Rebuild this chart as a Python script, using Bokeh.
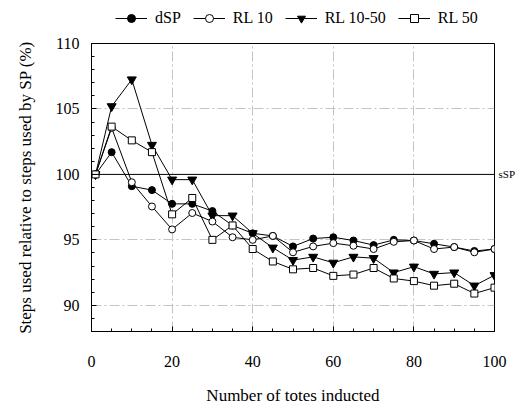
from bokeh.plotting import figure
from bokeh.layouts import column
from bokeh.models import (FixedTicker, Legend, LegendItem, Span, Range1d, LinearAxis)
from bokeh.embed import file_html
from bokeh.resources import INLINE

# ---- data ----
totes = [1, 5, 10, 15, 20, 25, 30, 35, 40, 45, 50, 55, 60, 65, 70, 75, 80, 85, 90, 95, 100]
dsp = [100, 101.7, 99.1, 98.8, 97.75, 97.75, 97.2, 96.1, 95.5, 95.3, 94.5, 95.1, 95.2,
       94.95, 94.6, 95.0, 94.95, 94.7, 94.45, 94.15, 94.3]
rl10 = [100, 103.55, 99.4, 97.55, 95.8, 97.05, 96.4, 95.2, 95.0, 95.3, 94.05, 94.5, 94.75,
        94.55, 94.3, 94.85, 94.95, 94.3, 94.45, 94.05, 94.3]
rl10_50 = [100, 105.2, 107.25, 102.25, 99.6, 99.6, 96.85, 96.85, 95.5, 94.4, 93.45, 93.7,
           93.25, 93.7, 93.6, 92.5, 92.95, 92.4, 92.5, 91.5, 92.3]
rl50 = [100, 103.65, 102.6, 101.7, 96.95, 98.2, 95.0, 96.1, 94.3, 93.35, 92.75, 92.85,
        92.25, 92.35, 92.85, 92.05, 91.85, 91.5, 91.65, 90.9, 91.35]
series_names = ["dSP", "RL 10", "RL 10-50", "RL 50"]
x_ticks = [0, 20, 40, 60, 80, 100]
y_ticks = [90, 95, 100, 105, 110]
sp_level = 100
sp_label = "sSP"

FONT = "Liberation Serif"
W = 518
TOP_H = 36
MAIN_H = 371

# ---------------- main chart ----------------
p = figure(width=W, height=MAIN_H, output_backend="svg", toolbar_location=None,
           x_range=Range1d(0, 100), y_range=Range1d(88, 110),
           min_border_left=91, min_border_right=21, min_border_top=43 - TOP_H,
           min_border_bottom=MAIN_H - (43 - TOP_H) - 290)

p.outline_line_color = "black"
p.outline_line_width = 1
p.outline_line_alpha = 1

p.xaxis.ticker = FixedTicker(ticks=x_ticks, minor_ticks=list(range(0, 101, 5)))
p.yaxis.ticker = FixedTicker(ticks=y_ticks, minor_ticks=list(range(88, 111, 1)))
p.axis.major_tick_in = 5
p.axis.major_tick_out = 0
p.axis.minor_tick_in = 3
p.axis.minor_tick_out = 0
p.axis.axis_line_color = "black"
p.axis.major_tick_line_color = "black"
p.axis.minor_tick_line_color = "black"
p.axis.major_label_text_font = FONT
p.axis.major_label_text_font_size = "16px"
p.axis.major_label_text_color = "black"
p.axis.axis_label_text_font = FONT
p.axis.axis_label_text_font_size = "17px"
p.axis.axis_label_text_font_style = "normal"
p.axis.axis_label_text_color = "black"

p.xaxis.axis_label = "Number of totes inducted"
p.yaxis.axis_label = "Steps used relative to steps used by SP (%)"
p.xaxis.major_label_standoff = 24
p.xaxis.axis_label_standoff = 16
p.yaxis.major_label_standoff = 12
p.yaxis.axis_label_standoff = 18

p.xgrid.ticker = FixedTicker(ticks=[20, 40, 60, 80])
p.ygrid.ticker = FixedTicker(ticks=[90, 95, 105])
for g in (p.xgrid[0], p.ygrid[0]):
    g.grid_line_color = "#c4c4c4"
    g.grid_line_dash = "10 3 2 3"
    g.grid_line_width = 1

p.add_layout(Span(location=sp_level, dimension="width", line_color="black", line_width=1))
sp_axis = LinearAxis(ticker=FixedTicker(ticks=[sp_level], minor_ticks=[]),
                     major_label_overrides={sp_level: sp_label},
                     axis_line_alpha=0, major_tick_line_alpha=0, minor_tick_line_alpha=0,
                     major_tick_in=0, major_tick_out=0, minor_tick_in=0, minor_tick_out=0,
                     major_label_standoff=4, major_label_text_font=FONT,
                     major_label_text_font_size="11px", major_label_text_color="black")
p.add_layout(sp_axis, "right")


def draw_series(fig):
    # draw order: RL 10-50, dSP, RL 10, RL 50
    l3 = fig.line(totes, rl10_50, line_color="black", line_width=1)
    m3 = fig.scatter(totes, rl10_50, marker="inverted_triangle", size=9,
                     fill_color="black", line_color="black")
    l1 = fig.line(totes, dsp, line_color="black", line_width=1)
    m1 = fig.scatter(totes, dsp, marker="circle", size=7, fill_color="black",
                     line_color="black")
    l2 = fig.line(totes, rl10, line_color="black", line_width=1)
    m2 = fig.scatter(totes, rl10, marker="circle", size=7, fill_color="white",
                     line_color="black")
    l4 = fig.line(totes, rl50, line_color="black", line_width=1)
    m4 = fig.scatter(totes, rl50, marker="square", size=7, fill_color="white",
                     line_color="black")
    return [(l1, m1), (l2, m2), (l3, m3), (l4, m4)]


draw_series(p)

# ---------------- legend strip on top ----------------
top = figure(width=W, height=TOP_H, output_backend="svg", toolbar_location=None,
             x_range=Range1d(1000, 1001), y_range=Range1d(1000, 1001),
             min_border=0, x_axis_location=None, y_axis_location=None)
top.outline_line_alpha = 0
top.grid.visible = False
pairs = draw_series(top)

legend = Legend(items=[LegendItem(label=n, renderers=list(r))
                       for n, r in zip(series_names, pairs)],
                location=(24, 8), orientation="horizontal",
                glyph_width=32, glyph_height=20, label_standoff=8, spacing=12,
                padding=0, margin=0, border_line_alpha=0, background_fill_alpha=0,
                label_text_font=FONT, label_text_font_size="16px",
                label_text_font_style="normal", label_text_color="black")
top.add_layout(legend, "center")

layout = column(top, p, spacing=0)
open("out.html", "w").write(file_html(layout, INLINE))
